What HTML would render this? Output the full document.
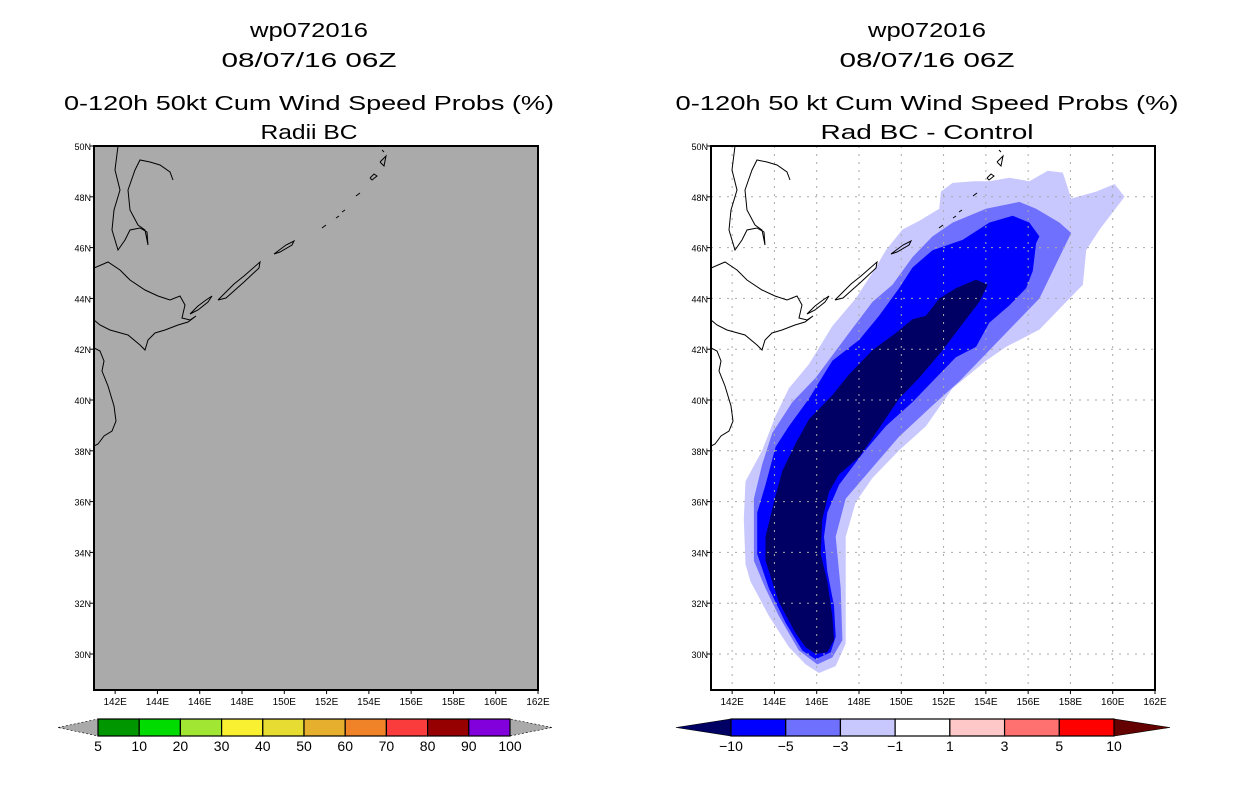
<!DOCTYPE html>
<html><head><meta charset="utf-8"><style>
body{margin:0;background:#fff}
svg{display:block;font-family:"Liberation Sans",sans-serif}
</style></head><body>
<svg id="c" width="1236" height="800" viewBox="0 0 1236 800">
<g font-size="20" text-anchor="middle" fill="#000">
<text x="309" y="37" textLength="118" lengthAdjust="spacingAndGlyphs">wp072016</text>
<text x="309" y="67" textLength="175" lengthAdjust="spacingAndGlyphs">08/07/16 06Z</text>
<text x="309" y="110" textLength="490" lengthAdjust="spacingAndGlyphs">0-120h 50kt Cum Wind Speed Probs (%)</text>
<text x="309" y="139" textLength="97" lengthAdjust="spacingAndGlyphs">Radii BC</text>
</g>
<g font-size="20" text-anchor="middle" fill="#000">
<text x="927" y="37" textLength="118" lengthAdjust="spacingAndGlyphs">wp072016</text>
<text x="927" y="67" textLength="175" lengthAdjust="spacingAndGlyphs">08/07/16 06Z</text>
<text x="927" y="110" textLength="503" lengthAdjust="spacingAndGlyphs">0-120h 50 kt Cum Wind Speed Probs (%)</text>
<text x="927" y="139" textLength="213" lengthAdjust="spacingAndGlyphs">Rad BC - Control</text>
</g>
<g id="left"></g>
<g id="right"></g>
<g id="cbL"></g>
<g id="cbR"></g>
</svg>
<script>
const lonTicks=[142,144,146,148,150,152,154,156,158,160,162];
const latTicks=[30,32,34,36,38,40,42,44,46,48,50];
const levelNames=['-1','-3','-5','-10'];
const levelColors=['#c8c8ff','#7070ff','#0000ff','#000064'];
// contour polygons in trace units (converted to lon/lat by toLL)
const cLight=[[360,1545],[410,1525],[440,1460],[440,1300],[440,1150],[470,1050],[520,980],[600,900],[680,830],[760,720],[860,640],[920,600],[1020,550],[1090,480],[1150,420],[1160,320],[1200,260],[1275,165],[1245,128],[1190,150],[1115,170],[1090,95],[1045,90],[990,120],[930,110],[870,120],[825,120],[760,125],[725,150],[720,200],[660,235],[610,260],[560,320],[530,370],[470,460],[400,540],[330,650],[270,720],[230,800],[190,900],[140,990],[135,1100],[140,1230],[155,1280],[210,1380],[270,1470],[320,1520]];
const cMed=[[355,1520],[400,1500],[430,1450],[425,1300],[410,1150],[440,1040],[520,950],[600,860],[700,770],[780,700],[860,620],[920,560],[970,510],[1020,460],[1060,380],[1090,320],[1115,270],[1080,240],[1010,200],[960,180],[860,200],[760,240],[700,280],[640,340],[580,420],[520,470],[450,560],[350,690],[280,760],[220,850],[190,940],[165,1040],[165,1220],[200,1300],[240,1380],[300,1480]];
const cBlue=[[350,1505],[395,1485],[410,1440],[405,1350],[385,1250],[375,1150],[385,1080],[420,1000],[490,910],[560,830],[640,760],[700,700],[770,630],[830,600],[870,530],[930,480],[980,430],[1000,380],[1010,300],[1020,280],[990,240],[940,220],[870,240],[790,290],[700,320],[640,370],[600,430],[540,510],[480,580],[400,640],[330,750],[270,830],[230,890],[200,1000],[175,1080],[175,1200],[210,1300],[260,1400],[310,1480]];
const cNavy=[[350,1490],[385,1485],[405,1450],[400,1380],[385,1280],[365,1200],[370,1100],[390,1020],[420,970],[480,920],[530,850],[600,750],[660,690],[730,610],[800,520],[840,470],[865,420],[830,405],[770,430],[720,460],[680,510],[640,520],[590,560],[520,610],[450,680],[400,740],[330,810],[290,880],[250,960],[225,1050],[200,1150],[200,1220],[240,1340],[290,1430],[320,1470]];
const leftLevels=['5','10','20','30','40','50','60','70','80','90','100'];
const leftColors=['#009600','#00dc00','#a0e632','#faf032','#e6dc32','#e6af2d','#f08228','#fa3c3c','#960000','#8200dc'];
const rightLevels=['-10','-5','-3','-1','1','3','5','10'];
const rightColors=['#0000ff','#7070ff','#c8c8ff','#ffffff','#ffc8c8','#ff7070','#ff0000'];

const NS='http://www.w3.org/2000/svg';
const W=444,H=544,lon0=141,lon1=162,latTop=50,latBot=50-544/25.4;
function mk(t,p,a){const e=document.createElementNS(NS,t);for(const k in a)e.setAttribute(k,a[k]);p.appendChild(e);return e;}
function xs(ox,lon){return ox+(lon-lon0)/(lon1-lon0)*W;}
function ys(lat){return 146+(latTop-lat)/(latTop-latBot)*H;}
function toLL(p){return [142+(p[0]-100)/63.3, 50-(p[1]-18)/73.6];}
const coast=[
[[24,0],[21,24],[26,44],[20,64],[18,84],[24,104],[31,94],[36,84],[46,82],[53,86],[54,99],[51,84],[44,79],[36,64],[34,44],[41,24],[46,14],[56,16],[66,19],[76,26],[79,34]],
[[0,122],[14,116],[26,124],[36,134],[51,144],[64,150],[76,154],[86,150],[91,159],[88,172],[96,174],[102,170],[94,176],[84,179],[71,184],[61,187],[54,194],[51,204],[46,199],[34,189],[16,184],[6,179],[0,174]],
[[0,202],[6,205],[10,215],[8,225],[14,240],[20,260],[22,275],[18,285],[10,290],[4,298],[0,300]],
[[96,168],[104,160],[112,154],[118,150],[114,156],[104,164],[96,168]],
[[124,154],[140,138],[150,130],[166,116],[165,122],[150,136],[132,152],[124,154]],
[[180,108],[192,99],[200,95],[198,99],[186,106],[180,108]],
[[228,82],[232,79]],[[242,72],[245,70]],[[248,66],[251,64]],[[262,50],[266,47]],[[276,32],[280,28],[283,30],[278,34],[276,32]],[[286,16],[292,10],[290,20],[286,16]],[[288,4],[290,6]]
];
function panel(g,ox,gray,isRight){
  const clip=mk('clipPath',g,{id:'cl'+ox});mk('rect',clip,{x:ox,y:146,width:W,height:H});
  const bg=mk('rect',g,{x:ox,y:146,width:W,height:H,fill:gray?'#aaaaaa':'#fff'});
  
  
  const inner=mk('g',g,{'clip-path':'url(#cl'+ox+')'});
  if(isRight){
    [cLight,cMed,cBlue,cNavy].forEach((poly,i)=>{
      const pts=poly.map(p=>{const ll=toLL(p);return xs(ox,ll[0]).toFixed(1)+','+ys(ll[1]).toFixed(1);}).join(' ');
      const e=mk('polygon',inner,{points:pts,fill:levelColors[i]});
      
      
    });
    lonTicks.slice(0,-1).forEach(l=>{const x=xs(ox,l);const e=mk('line',inner,{x1:x,x2:x,y1:146,y2:146+H,stroke:'#aaa','stroke-dasharray':'2,6'});
      
      });
    latTicks.slice(0,-1).forEach(l=>{const y=ys(l);const e=mk('line',inner,{x1:ox,x2:ox+W,y1:y,y2:y,stroke:'#aaa','stroke-dasharray':'2,6'});
      
      });
  }
  coast.forEach(c=>{const e=mk('polyline',inner,{points:c.map(p=>(ox+p[0])+','+(146+p[1])).join(' '),fill:'none',stroke:'#000','stroke-width':1});
    
    });
  const fr=mk('rect',g,{x:ox,y:146,width:W,height:H,fill:'none',stroke:'#000','stroke-width':2});
  
  
  lonTicks.forEach(l=>{const x=xs(ox,l);mk('line',g,{x1:x,x2:x,y1:146+H,y2:146+H+4,stroke:'#000'});
    const t=mk('text',g,{x:x,y:146+H+15,'font-size':10,'text-anchor':'middle'});t.textContent=l+'E';
    
    });
  latTicks.forEach(l=>{const y=ys(l);mk('line',g,{x1:ox-4,x2:ox,y1:y,y2:y,stroke:'#000'});
    const t=mk('text',g,{x:ox-3,y:y+4,'font-size':9,'text-anchor':'end'});t.textContent=l+'N';
    
    });
}
panel(document.getElementById('left'),94,true,false);
panel(document.getElementById('right'),711,false,true);
function colorbar(g,x0,x1,tl,tr,colors,labels,lc,rc){
  const y=719,h=17,n=colors.length,w=(x1-x0)/n;
  const a=mk('polygon',g,{points:`${tl},${y+h/2} ${x0},${y} ${x0},${y+h}`,fill:lc,stroke:'#000','stroke-dasharray':lc=='#aaaaaa'?'2,2':'none','stroke-width':0.6});
  
  
  const b=mk('polygon',g,{points:`${tr},${y+h/2} ${x1},${y} ${x1},${y+h}`,fill:rc,stroke:'#000','stroke-dasharray':rc=='#aaaaaa'?'2,2':'none','stroke-width':0.6});
  
  
  colors.forEach((c,i)=>{const r=mk('rect',g,{x:x0+i*w,y:y,width:w,height:h,fill:c,stroke:'#000','stroke-width':1.2});
    
    });
  labels.forEach((l,i)=>{const t=mk('text',g,{x:x0+i*w,y:y+h+15,'font-size':14,'text-anchor':'middle'});t.textContent=l.replace('-','\u2212');
    
    });
}
colorbar(document.getElementById('cbL'),98,510,58,552,leftColors,leftLevels,'#aaaaaa','#aaaaaa');
colorbar(document.getElementById('cbR'),731,1114,676,1170,rightColors,rightLevels,'#000064','#640000');
</script>
</body></html>
